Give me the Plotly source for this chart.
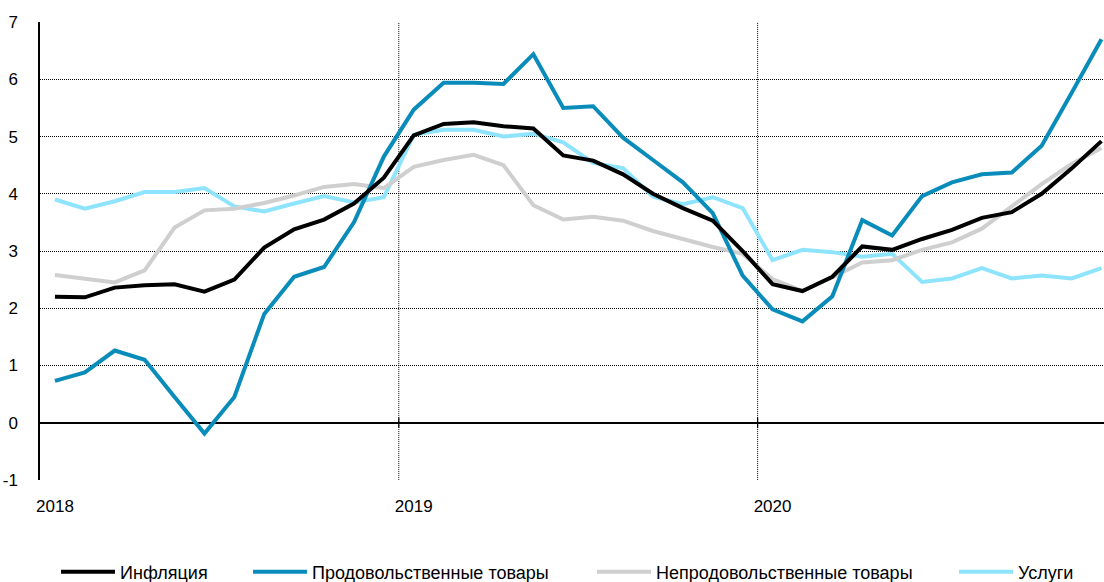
import plotly.graph_objects as go

months = list(range(36))
year_ticks = [0, 12, 24]
year_labels = ["2018", "2019", "2020"]
year_bounds = [11.5, 23.5]
y_ticks = [-1, 0, 1, 2, 3, 4, 5, 6, 7]
y_labels = ["-1", "0", "1", "2", "3", "4", "5", "6", "7"]

inflation = [2.2, 2.19, 2.36, 2.40, 2.42, 2.29, 2.50, 3.06, 3.38, 3.55, 3.83, 4.28,
             5.02, 5.22, 5.25, 5.18, 5.14, 4.67, 4.58, 4.34, 4.00, 3.75, 3.53, 3.00,
             2.42, 2.30, 2.55, 3.08, 3.02, 3.21, 3.37, 3.58, 3.68, 4.00, 4.44, 4.92]
food = [0.73, 0.88, 1.26, 1.10, 0.45, -0.19, 0.45, 1.90, 2.55, 2.72, 3.50, 4.65,
        5.47, 5.94, 5.94, 5.92, 6.44, 5.50, 5.53, 4.98, 4.59, 4.20, 3.66, 2.57,
        1.98, 1.77, 2.21, 3.54, 3.27, 3.96, 4.20, 4.34, 4.37, 4.84, 5.76, 6.70]
nonfood = [2.58, 2.52, 2.45, 2.66, 3.41, 3.71, 3.74, 3.84, 3.97, 4.12, 4.17, 4.10,
           4.47, 4.59, 4.68, 4.50, 3.80, 3.55, 3.60, 3.53, 3.35, 3.21, 3.07, 2.95,
           2.51, 2.30, 2.54, 2.80, 2.84, 3.02, 3.15, 3.39, 3.77, 4.17, 4.52, 4.80]
services = [3.90, 3.74, 3.87, 4.03, 4.03, 4.10, 3.78, 3.69, 3.83, 3.96, 3.85, 3.94,
            5.03, 5.12, 5.12, 5.00, 5.05, 4.90, 4.54, 4.45, 3.95, 3.82, 3.94, 3.75,
            2.84, 3.02, 2.98, 2.90, 2.95, 2.46, 2.52, 2.70, 2.52, 2.57, 2.52, 2.70]

series = [
    ("Инфляция", inflation, "#000000", 4, "legend", 56),
    ("Продовольственные товары", food, "#0a8cba", 4, "legend2", 248),
    ("Непродовольственные товары", nonfood, "#cfcfcf", 4, "legend3", 592),
    ("Услуги", services, "#8fe4fd", 4, "legend4", 954),
]

FONT = "Liberation Sans"
W, H = 1104, 582

fig = go.Figure()
for name, vals, color, w, lg, _ in [series[3], series[2], series[1], series[0]]:
    fig.add_trace(go.Scatter(x=months, y=vals, mode="lines", name=name,
                             line=dict(color=color, width=w), legend=lg))

dot = "1px,1px"
for b in year_bounds:
    fig.add_shape(type="line", x0=b, x1=b, y0=-1, y1=7, xref="x", yref="y",
                  line=dict(color="#000", width=1, dash=dot), layer="below")
    fig.add_shape(type="line", x0=b, x1=b, y0=-0.09, y1=0.09, xref="x", yref="y",
                  line=dict(color="#000", width=1.2), layer="below")

legends = {}
for name, vals, color, w, lg, px in series:
    legends[lg] = dict(orientation="h", xref="container", yref="container",
                       x=px / W, y=1 - 572 / H, xanchor="left", yanchor="middle",
                       font=dict(family=FONT, size=18, color="#000"),
                       bgcolor="rgba(0,0,0,0)", itemwidth=54)

fig.update_layout(
    width=W, height=H,
    margin=dict(l=40, r=0, t=22, b=102, autoexpand=False),
    plot_bgcolor="white", paper_bgcolor="white",
    font=dict(family=FONT, size=17, color="#000"),
    xaxis=dict(range=[-0.5, 35.085], tickvals=year_ticks, ticktext=year_labels,
               showgrid=False, zeroline=False, showline=False, ticks="",
               automargin=False, ticklabelstandoff=14,
               tickfont=dict(family=FONT, size=17)),
    yaxis=dict(range=[-1.002, 7.002], tickvals=y_ticks, ticktext=y_labels,
               showgrid=True, gridcolor="#000", automargin=False,
               gridwidth=1, griddash=dot, zeroline=True, zerolinecolor="#000",
               zerolinewidth=1.5, showline=True, linecolor="#000", linewidth=1.5,
               ticks="", ticklabelstandoff=17, tickfont=dict(family=FONT, size=17)),
    showlegend=True,
    **legends,
)

fig.write_html(
    "out.html",
    config={"displayModeBar": False},
    post_script="document.body.style.margin='0';document.body.style.overflow='hidden';",
)
